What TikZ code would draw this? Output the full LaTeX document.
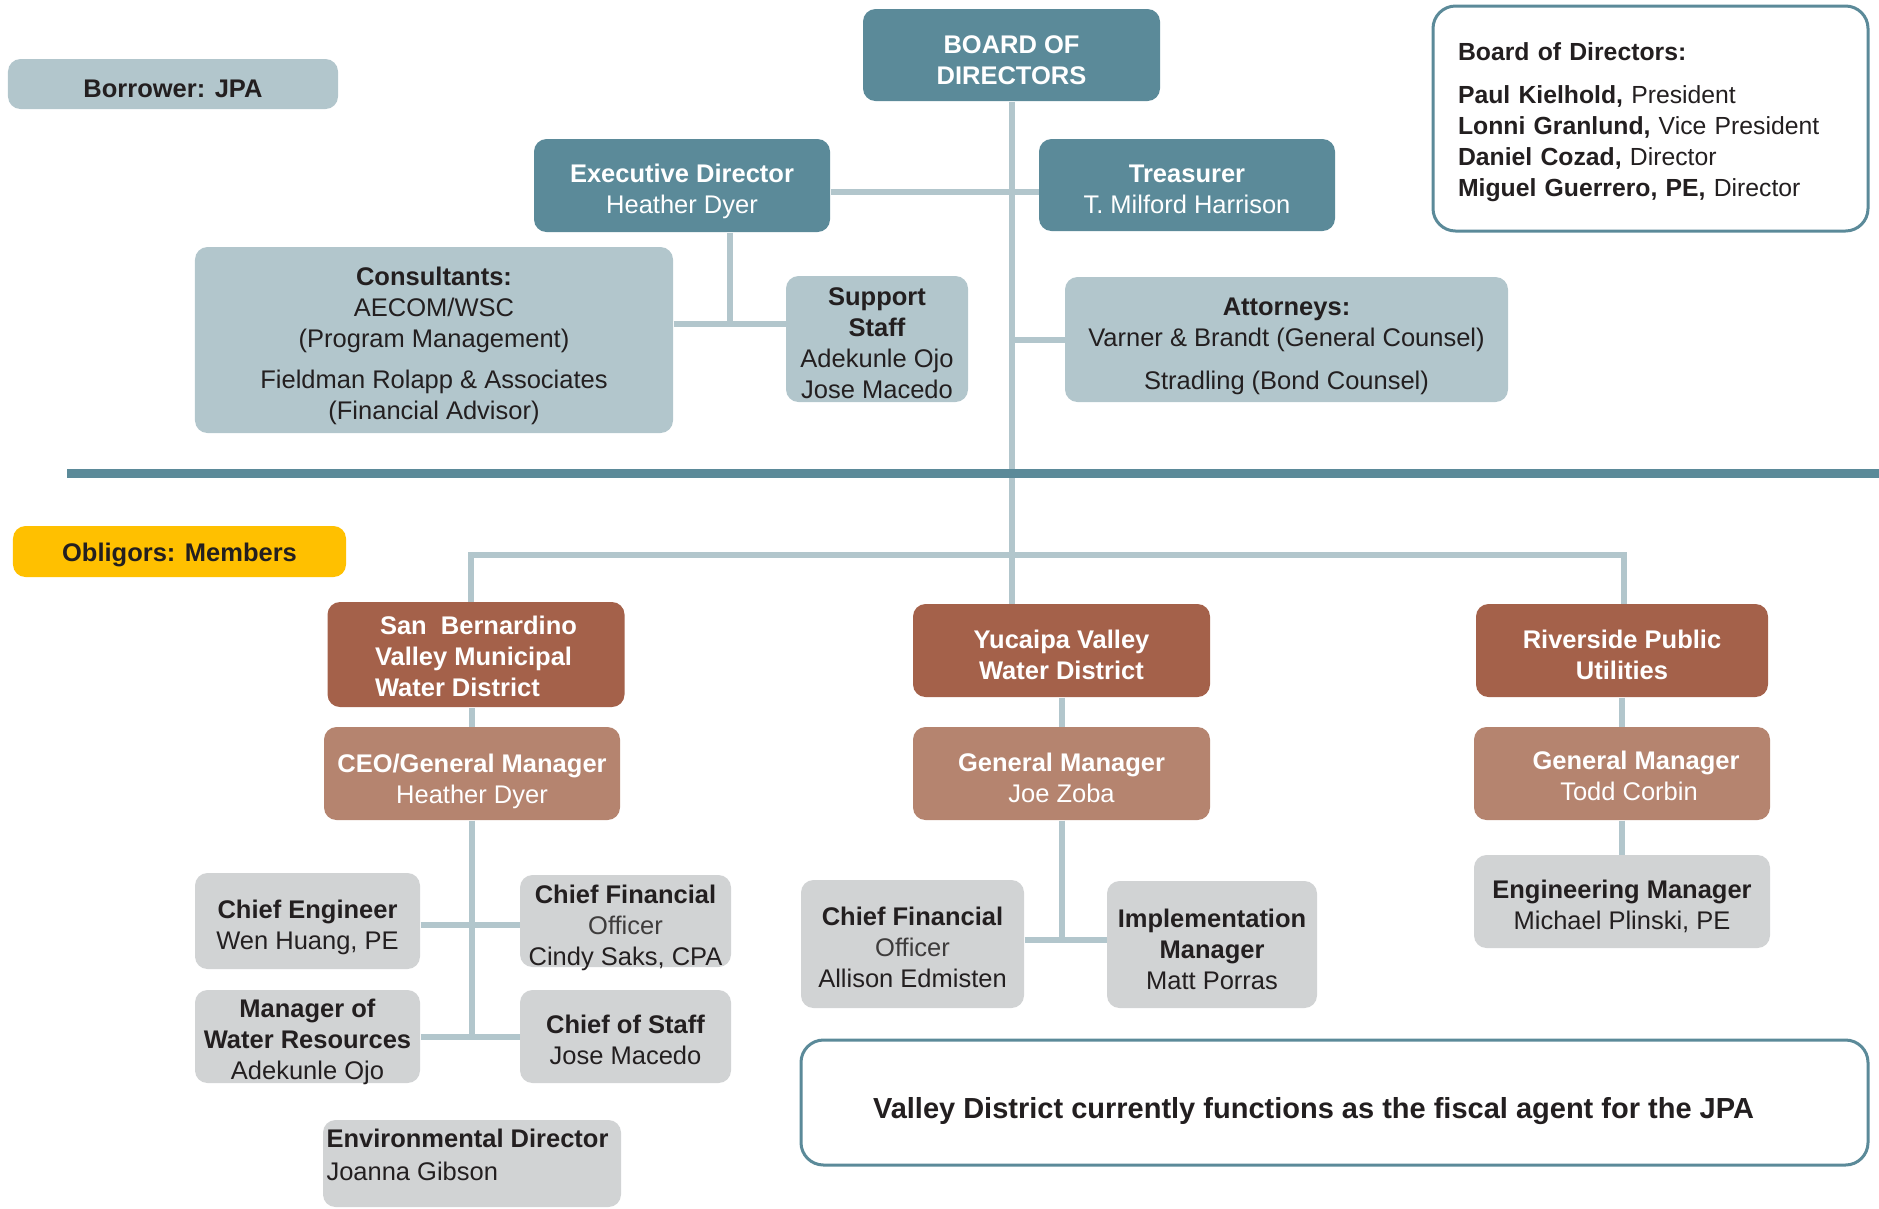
\documentclass[tikz,border=0pt]{standalone}
\usepackage{fontspec}
\setmainfont{Liberation Sans}
\definecolor{tealdk}{RGB}{91,138,153}
\definecolor{bluelt}{RGB}{178,198,204}
\definecolor{linelt}{RGB}{178,198,204}
\definecolor{brownd}{RGB}{164,97,74}
\definecolor{brownl}{RGB}{181,132,111}
\definecolor{grayb}{RGB}{209,211,212}
\definecolor{yellowb}{RGB}{255,192,0}
\definecolor{txt}{RGB}{35,31,32}
\definecolor{txtlt}{RGB}{62,60,60}
\tikzset{
  base/.style={rounded corners=5pt, inner sep=0pt, align=center, font=\fontsize{10.2}{12.4}\selectfont},
  th/.style={text height=#1, text depth=0pt},
  tealbox/.style={base, fill=tealdk, text=white},
  ltbox/.style={base, fill=bluelt, text=txt},
  darkbrown/.style={base, fill=brownd, text=white},
  lightbrown/.style={base, fill=brownl, text=white},
  graybox/.style={base, fill=grayb, text=txt},
  yellowbox/.style={base, fill=yellowb, text=txt},
  outlinebox/.style={base, draw=tealdk, line width=1.2pt, fill=white, text=txt, rounded corners=9pt},
  conn/.style={draw=linelt, line width=2.4pt},
}
\begin{document}
\begin{tikzpicture}[x=0.4pt, y=-0.4pt]
\useasboundingbox (0,0) rectangle (1879,1208);

% ---- upper part (JPA)
\node[tealbox, minimum width=118.8pt, minimum height=36.8pt, th=23.2pt] (board) at (1011.5,55) {\textbf{BOARD OF}\\\textbf{DIRECTORS}};
\node[tealbox, minimum width=118.4pt, minimum height=37.2pt, th=22.45pt] (exec) at (682,185.5) {\textbf{Executive Director}\\Heather Dyer};
\node[tealbox, minimum width=118.4pt, minimum height=36.8pt, th=22.65pt] (treas) at (1187,185) {\textbf{Treasurer}\\T. Milford Harrison};
\node[ltbox, minimum width=191.2pt, minimum height=74.4pt, th=63.35pt] (cons) at (434,340) {\textbf{Consultants:}\\AECOM/WSC\\(Program Management)\\[4pt]Fieldman Rolapp \& Associates\\(Financial Advisor)};
\node[ltbox, minimum width=72.8pt, minimum height=50.4pt, th=47.45pt] (supp) at (877,339) {\textbf{Support}\\\textbf{Staff}\\Adekunle Ojo\\Jose Macedo};
\node[ltbox, minimum width=177.2pt, minimum height=50pt, th=40.05pt] (att) at (1286.5,339.5) {\textbf{Attorneys:}\\Varner \& Brandt (General Counsel)\\[4.8pt]Stradling (Bond Counsel)};
\node[outlinebox, minimum width=174pt, minimum height=90pt, align=left, text width=154pt, inner xsep=10pt, text depth=53.6pt,
      font=\fontsize{9.9}{12.4}\selectfont] (info) at (1650.5,118.5)
  {\textbf{Board of Directors:}\\[4.8pt]\textbf{Paul Kielhold,} President\\\textbf{Lonni Granlund,} Vice President\\\textbf{Daniel Cozad,} Director\\\textbf{Miguel Guerrero, PE,} Director};
\node[ltbox, minimum width=132pt, minimum height=20pt, th=11.15pt] (borrower) at (173,84) {\textbf{Borrower: JPA}};

% ---- members
\node[yellowbox, minimum width=133.2pt, minimum height=20.4pt, th=8pt] (obligors) at (179.5,551.5) {\textbf{Obligors: Members}};
\node[darkbrown, minimum width=118.8pt, minimum height=42pt, align=left, th=33.5pt] (sb) at (476,654.5) {\hspace*{2pt}\textbf{San~~Bernardino}\\\textbf{Valley Municipal}\\\textbf{Water District}};
\node[lightbrown, minimum width=118.4pt, minimum height=37.2pt, th=24.15pt] (ceo) at (472,773.5) {\textbf{CEO/General Manager}\\Heather Dyer};
\node[graybox, minimum width=90pt, minimum height=38.4pt, th=22.9pt] (ce) at (307.5,921) {\textbf{Chief Engineer}\\Wen Huang, PE};
\node[graybox, minimum width=84.4pt, minimum height=36.8pt, th=35.25pt] (cfo1) at (625.5,921) {\textbf{Chief Financial}\\\textcolor{txtlt}{Officer}\\Cindy Saks, CPA};
\node[graybox, minimum width=90pt, minimum height=37.2pt, th=34.6pt] (mwr) at (307.5,1036.5) {\textbf{Manager of}\\\textbf{Water Resources}\\Adekunle Ojo};
\node[graybox, minimum width=84.4pt, minimum height=37.2pt, th=22.65pt] (cos) at (625.5,1036.5) {\textbf{Chief of Staff}\\Jose Macedo};
\node[graybox, minimum width=119.2pt, minimum height=34.8pt] (env) at (472,1163.5) {};
\node[base, anchor=north west, align=left, text=txt, text depth=0pt, font=\fontsize{10.2}{13.2}\selectfont] (envt) at (326,1128) {\textbf{Environmental Director}\\Joanna Gibson};

\node[darkbrown, minimum width=118.8pt, minimum height=37.2pt, th=22.9pt] (yuc) at (1061.5,650.5) {\textbf{Yucaipa Valley}\\\textbf{Water District}};
\node[lightbrown, minimum width=118.8pt, minimum height=37.2pt, th=23.05pt] (ygm) at (1061.5,773.5) {\textbf{General Manager}\\Joe Zoba};
\node[graybox, minimum width=89.2pt, minimum height=51.2pt, th=35.05pt] (ycfo) at (912.5,944) {\textbf{Chief Financial}\\\textcolor{txtlt}{Officer}\\Allison Edmisten};
\node[graybox, minimum width=84pt, minimum height=50.8pt, th=35.95pt] (yim) at (1212,944.5) {\textbf{Implementation}\\\textbf{Manager}\\Matt Porras};

\node[darkbrown, minimum width=116.8pt, minimum height=37.2pt, th=22.9pt] (riv) at (1622,650.5) {\textbf{Riverside Public}\\\textbf{Utilities}};
\node[lightbrown, minimum width=118.4pt, minimum height=37.2pt, th=21.75pt] (rgm) at (1622,773.5) {\hspace*{11.2pt}\textbf{General Manager}\\\hspace*{5.6pt}Todd Corbin};
\node[graybox, minimum width=118.4pt, minimum height=37.2pt, th=22.55pt] (eng) at (1622,901.5) {\textbf{Engineering Manager}\\Michael Plinski, PE};

\node[outlinebox, minimum width=426.8pt, minimum height=50pt, th=12.7pt] (fiscal) at (1334.5,1102.5)
  {\fontsize{11.6}{14}\selectfont\bfseries Valley District currently functions as the fiscal agent for the JPA\hspace*{16.8pt}};

% ---- connectors
\coordinate (j0) at (1011.5,192);
\coordinate (j1) at (730,324);
\coordinate (mL) at (471,555);
\coordinate (mR) at (1624,555);
\coordinate (j3) at (472,925);
\coordinate (j5) at (1063,940);

\draw[conn] (board.south) -- (board.south |- yuc.north);
\draw[conn] (exec.east |- j0) -- (treas.west |- j0);
\draw[conn] (exec.south -| j1) -- (j1);
\draw[conn] (cons.east |- j1) -- (supp.west |- j1);
\draw[conn] (att.west) -- (att.west -| board.south);
\draw[conn] (mL |- sb.north) -- (mL) -- (mR) -- (mR |- riv.north);
\draw[conn] (ceo.north) -- (ceo.north |- sb.south);
\draw[conn] (ceo.south) -- (ceo.south |- mwr.east);
\draw[conn] (ce.east |- j3) -- (cfo1.west |- j3);
\draw[conn] (mwr.east) -- (cos.west);
\draw[conn] (yuc.south) -- (ygm.north);
\draw[conn] (ygm.south) -- (ygm.south |- j5);
\draw[conn] (ycfo.east |- j5) -- (yim.west |- j5);
\draw[conn] (riv.south) -- (rgm.north);
\draw[conn] (rgm.south) -- (eng.north);

% ---- separator
\draw[tealdk, line width=3.6pt] (67,473.5) -- (1879,473.5);
\end{tikzpicture}
\end{document}
